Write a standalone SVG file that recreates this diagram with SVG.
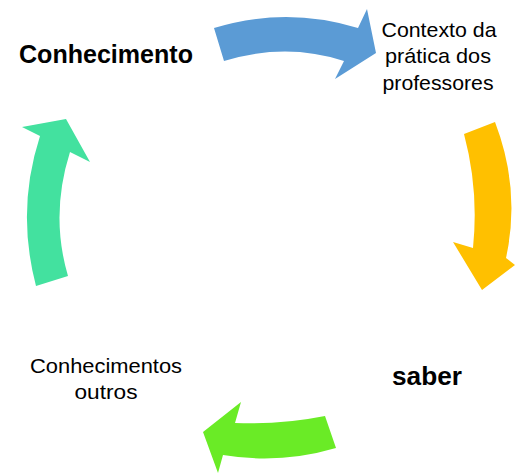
<svg xmlns="http://www.w3.org/2000/svg" width="515" height="473" viewBox="0 0 515 473">
<style>
.lbl{font-family:"Liberation Sans",Arial,sans-serif;font-size:21px;fill:#000;text-anchor:middle}
.bold{font-family:"Liberation Sans",Arial,sans-serif;font-weight:bold;fill:#000}
</style>
<rect width="515" height="473" fill="#fff"/>
<g id="connectors">
<path id="arrow-blue" d="M214,28 Q286,6 358,28 L367,9 L376,53 L335,79 L344,61 Q286,42 224,61 Z" fill="#5B9BD5"/>
<path id="arrow-orange" d="M464,134 Q479,190 473,248 L453,242 L482,290 L515,265 L506,258 Q521,190 495,122 Z" fill="#FFC000"/>
<path id="arrow-green" d="M325,416 Q280,425 235,423 L241,402 L203,432 L218,473 L223,455 Q280,464.5 336,448 Z" fill="#6AEB26"/>
<path id="arrow-teal" d="M36,286 Q16,210 40,136 L22,127 L66,119 L90,162 L70,152 Q50,215 68,276 Z" fill="#43E19F"/>
</g>
<g id="node-conhecimento">
<text class="bold" x="19" y="63" font-size="26" textLength="174" lengthAdjust="spacingAndGlyphs">Conhecimento</text>
</g>
<g id="node-contexto">
<text class="lbl" x="439" y="37" textLength="115" lengthAdjust="spacingAndGlyphs">Contexto da</text>
<text class="lbl" x="438" y="63" textLength="106" lengthAdjust="spacingAndGlyphs">prática dos</text>
<text class="lbl" x="438" y="90" textLength="111" lengthAdjust="spacingAndGlyphs">professores</text>
</g>
<g id="node-saber">
<text class="bold" x="392" y="385" font-size="25" textLength="70" lengthAdjust="spacingAndGlyphs">saber</text>
</g>
<g id="node-outros">
<text class="lbl" x="106" y="373" textLength="152" lengthAdjust="spacingAndGlyphs">Conhecimentos</text>
<text class="lbl" x="106" y="399" textLength="63" lengthAdjust="spacingAndGlyphs">outros</text>
</g>
</svg>
